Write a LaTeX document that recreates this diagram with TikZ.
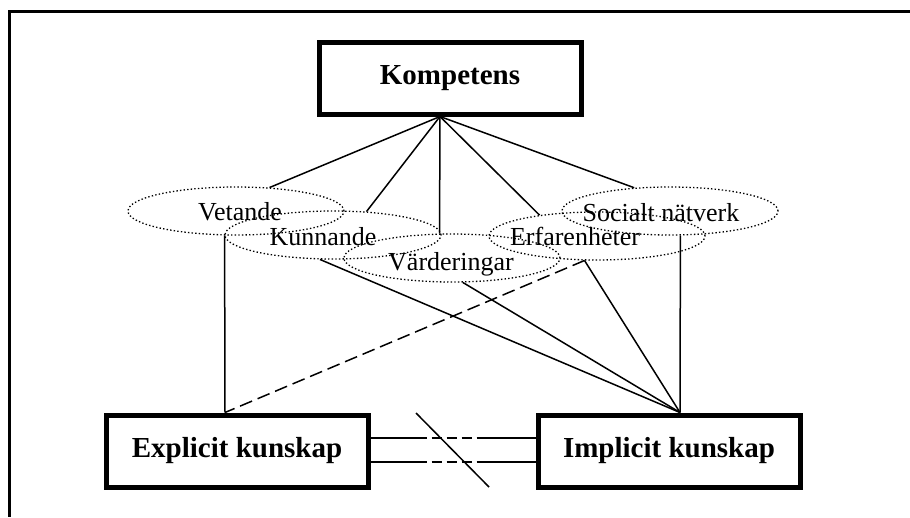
\documentclass[tikz,border=0pt]{standalone}
\usepackage{fontspec}
\setmainfont{Liberation Serif}
\usetikzlibrary{shapes.geometric,positioning}

\begin{document}
\begin{tikzpicture}[
  x=1pt,y=-1pt,
  box/.style={draw,line width=5pt,minimum width=262pt,minimum height=72pt,inner sep=0pt,
    font=\fontsize{29}{34}\selectfont\bfseries},
  oval/.style={draw,ellipse,line width=1.3pt,dash pattern=on 1.4pt off 2.2pt,
    minimum width=216pt,minimum height=48pt,inner sep=0pt},
  lab/.style={anchor=base,inner sep=0pt,font=\fontsize{26}{30}\selectfont},
  ln/.style={line width=1.5pt},
  dsh/.style={ln,dash pattern=on 13pt off 6pt},
  frame/.style={line width=3pt}]

 \useasboundingbox (0,0) rectangle (910,517);
 \draw[frame] (910,11) -| (9,517);

 % ---- boxes ----
 \node[box] (komp) at (450,78) {Kompetens};
 \node[box] (expl) at (237,451) {Explicit kunskap};
 \node[box] (impl) at (669,451) {Implicit kunskap};
 \coordinate (apex) at ([xshift=-10pt]komp.south);
 \coordinate (eup) at ([xshift=-12pt]expl.north);
 \coordinate (iup) at ([xshift=11pt]impl.north);

 % ---- ovals ----
 \node[oval] (vet) at (236,211) {};
 \node[oval] (kun) at (333,235) {};
 \node[oval] (vard) at (452,258) {};
 \node[oval] (erf) at (597,236) {};
 \node[oval] (soc) at (670,211) {};
 \node[lab] at ([xshift=4pt,yshift=-9pt]vet) {Vetande};
 \node[lab] at ([xshift=-10pt,yshift=-10pt]kun) {Kunnande};
 \node[lab] at ([xshift=-1pt,yshift=-12pt]vard) {Värderingar};
 \node[lab] at ([xshift=-22pt,yshift=-9pt]erf) {Erfarenheter};
 \node[lab] at ([xshift=-9pt,yshift=-10pt]soc) {Socialt nätverk};

 % ---- top lines ----
 \draw[ln] (apex) -- (vet.35);
 \draw[ln] (apex) -- (kun.35);
 \draw[ln] (apex) -- (vard.117);
 \draw[ln] (apex) -- (erf.160);
 \draw[ln] (apex) -- (soc.147);

 % ---- lines down ----
 \draw[ln] (vet.245) -- (eup);
 \draw[dsh] (erf.243) -- (eup);
 \draw[ln] (kun.242) -- (iup);
 \draw[ln] (vard.294) -- (iup);
 \draw[ln] (erf.243) -- (iup);
 \draw[ln] (soc.293) -- (iup);

 % ---- broken link ----
 \draw[ln] ([yshift=13pt]expl.east) -- ++(46,0) coordinate (u1);
 \draw[ln,dash pattern=on 10pt off 5pt] (u1) -- ++(70,0) coordinate (u2);
 \draw[ln] (u2) -- ([yshift=13pt]impl.west);
 \draw[ln] ([yshift=-11pt]expl.east) -- ++(46,0) coordinate (l1);
 \draw[ln,dash pattern=on 10pt off 5pt] (l1) -- ++(70,0) coordinate (l2);
 \draw[ln] (l2) -- ([yshift=-11pt]impl.west);
 \draw[ln] (416,413) -- (489,487);
\end{tikzpicture}
\end{document}
